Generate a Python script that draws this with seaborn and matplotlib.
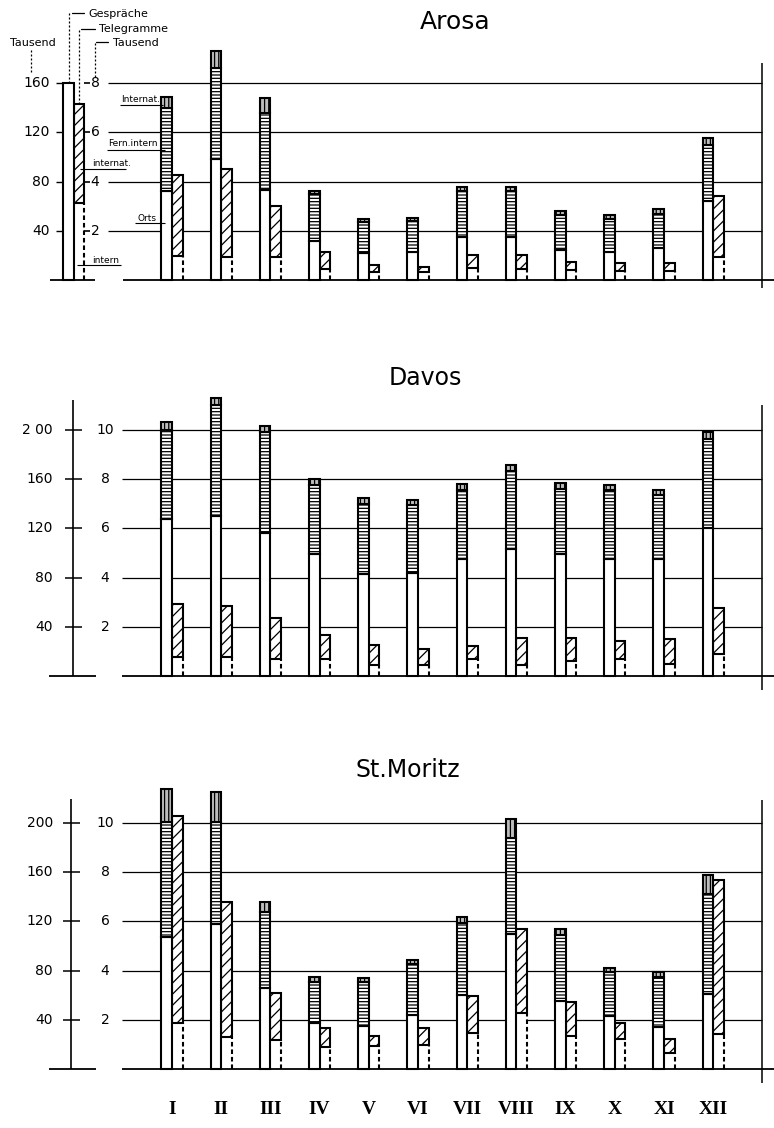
import numpy as np
import matplotlib
matplotlib.use("Agg")
import matplotlib.pyplot as plt
import seaborn as sns

# ---------------- data (thousands) ----------------
months = ["I", "II", "III", "IV", "V", "VI", "VII", "VIII", "IX", "X", "XI", "XII"]

# Gespräche: Orts, Fern intern, Internat.
arosa_orts = [72, 98, 73, 32, 22, 23, 35, 35, 24, 23, 26, 64]
arosa_fern = [68, 74, 63, 38, 25, 25, 37, 37, 29, 27, 28, 46]
arosa_internat = [9, 14, 12, 2.5, 2.2, 2.4, 3.5, 3.5, 3.4, 3.0, 3.5, 5.6]
# Telegramme: intern, internat.
arosa_tel_intern = [0.98, 0.95, 0.94, 0.46, 0.34, 0.31, 0.47, 0.44, 0.40, 0.37, 0.37, 0.92]
arosa_tel_internat = [3.29, 3.55, 2.06, 0.67, 0.27, 0.23, 0.54, 0.56, 0.35, 0.34, 0.31, 2.51]

davos_orts = [128, 130, 116, 99, 83, 84, 95, 103, 99, 95, 95, 120]
davos_fern = [72, 90, 82, 56, 57, 55, 56, 64, 53, 56, 52, 73]
davos_internat = [6.5, 6, 5.1, 4.8, 4.7, 4.2, 4.9, 4.7, 4.6, 4.6, 4.6, 5.2]
davos_tel_intern = [0.79, 0.79, 0.70, 0.70, 0.45, 0.45, 0.68, 0.45, 0.61, 0.68, 0.47, 0.88]
davos_tel_internat = [2.13, 2.06, 1.65, 0.95, 0.83, 0.66, 0.54, 1.11, 0.95, 0.74, 1.02, 1.88]

moritz_orts = [107, 118, 66, 37, 35, 44, 60, 110, 55, 43, 34, 61]
moritz_fern = [94, 83, 62, 34, 36, 41, 59, 78, 54, 36, 41, 81]
moritz_internat = [27, 24.5, 7.6, 3.5, 3.2, 3.5, 4.3, 15.5, 4.9, 3.2, 4.1, 15.5]
moritz_tel_intern = [1.88, 1.29, 1.18, 0.89, 0.93, 0.98, 1.46, 2.27, 1.36, 1.20, 0.65, 1.43]
moritz_tel_internat = [8.42, 5.49, 1.92, 0.77, 0.40, 0.69, 1.49, 3.42, 1.36, 0.68, 0.55, 6.27]

# key (legend) sample bars in the Arosa panel
key_gespraeche = 160
key_tel_intern = 3.15
key_tel_internat = 4.0

gesp_ticks_arosa = [40, 80, 120, 160]
tel_ticks_arosa = [2, 4, 6, 8]
gesp_ticks = [40, 80, 120, 160, 200]
gesp_ticklabels_davos = ["40", "80", "120", "160", "2 00"]
gesp_ticklabels_moritz = ["40", "80", "120", "160", "200"]
tel_ticks = [2, 4, 6, 8, 10]

# ---------------- style / layout ----------------
sns.set_theme(style="white")
plt.rcParams["font.family"] = ["DejaVu Sans"]
plt.rcParams["text.color"] = "black"
plt.rcParams["hatch.linewidth"] = 0.9

W, H = 774, 1128
PXU = 49.2          # pixels per month slot
X0 = 172            # pixel x of month I
YS = 1.23           # pixels per thousand calls
BW = 0.215          # bar width (month units)
BLW = 1.5           # bar outline width
RATIO = 20          # calls scale / telegram scale


def xd(px):
    return (px - X0) / PXU


fig = plt.figure(figsize=(W / 100, H / 100), dpi=100)
fig.patch.set_facecolor("white")


def make_axes(top, bot, base):
    ax = fig.add_axes([0, 1 - bot / H, 1, (bot - top) / H])
    ax2 = ax.twinx()
    ax2.set_zorder(1)
    ax.set_zorder(2)
    lim = ((base - bot) / YS, (base - top) / YS)
    return ax, ax2, lim


def finish(ax, ax2, lim):
    ax.set_xlim(xd(0), xd(W))
    ax.set_ylim(*lim)
    ax2.set_ylim(lim[0] / RATIO, lim[1] / RATIO)
    ax.axis("off")
    ax2.axis("off")


def draw_bars(ax, ax2, orts, fern, intl, t_int, t_intl):
    x = np.arange(len(months))
    orts = np.asarray(orts, float)
    fern = np.asarray(fern, float)
    intl = np.asarray(intl, float)
    t_int = np.asarray(t_int, float)
    t_intl = np.asarray(t_intl, float)
    xg = x - BW / 2
    xt = x + BW / 2
    sns.barplot(x=xg, y=orts, native_scale=True, orient="x", width=BW,
                color="white", saturation=1, edgecolor="black", linewidth=BLW,
                errorbar=None, ax=ax, zorder=3)
    ax.bar(xg, fern, BW, bottom=orts, facecolor="white", edgecolor="black",
           hatch="-----", linewidth=BLW, zorder=3)
    ax.bar(xg, intl, BW, bottom=orts + fern, facecolor="#bdbdbd",
           edgecolor="black", hatch="||||", linewidth=BLW, zorder=3)
    ax2.bar(xt, t_int, BW, facecolor="white", edgecolor="none", zorder=3)
    ax2.bar(xt, t_intl, BW, bottom=t_int, facecolor="white", edgecolor="black",
            hatch="///", linewidth=BLW, zorder=3)
    ax2.vlines(xt + BW / 2, 0, t_int, colors="black", linestyles=(0, (2.2, 1.4)),
               linewidth=BLW, zorder=4)


TICKFS = 10

# ================= Arosa =================
base = 280
ax, ax2, lim = make_axes(0, 330, base)
yA = lambda py: (base - py) / YS
ax2.hlines(tel_ticks_arosa, xd(108), xd(762), colors="black", linewidth=0.9, zorder=1)
draw_bars(ax, ax2, arosa_orts, arosa_fern, arosa_internat,
          arosa_tel_intern, arosa_tel_internat)
ax.hlines(0, xd(123), xd(774), colors="black", linewidth=1.3, zorder=2)
ax.hlines(0, xd(50), xd(95), colors="black", linewidth=1.3, zorder=2)
ax.vlines(xd(762), -6.5, 176.7, colors="black", linewidth=1.1)
ax.text(xd(455), yA(22), "Arosa", ha="center", va="center", fontsize=18)

# key bars
ax.bar(-2 - BW / 2, key_gespraeche, BW, facecolor="white", edgecolor="black",
       linewidth=BLW, zorder=3)
ax2.bar(-2 + BW / 2, key_tel_intern, BW, facecolor="white", edgecolor="none", zorder=3)
ax2.bar(-2 + BW / 2, key_tel_internat, BW, bottom=key_tel_intern, facecolor="white",
        edgecolor="black", hatch="///", linewidth=BLW, zorder=3)
ax2.vlines(-2 + BW, 0, key_tel_intern, colors="black", linestyles=(0, (2.2, 1.4)),
           linewidth=BLW, zorder=4)

# scales
for v in gesp_ticks_arosa:
    ax.text(xd(50), v, str(v), ha="right", va="center", fontsize=TICKFS)
ax.hlines(gesp_ticks_arosa, xd(56), xd(63), colors="black", linewidth=1.0)
for t in tel_ticks_arosa:
    ax2.text(xd(95), t, str(t), ha="center", va="center", fontsize=TICKFS)
ax2.hlines(tel_ticks_arosa, xd(84), xd(90), colors="black", linewidth=1.2)

dash = (0, (1.6, 1.6))
# header leaders
ax.plot([xd(69), xd(69)], [yA(83), yA(13)], color="black", lw=0.9, ls=dash)
ax.plot([xd(72), xd(84)], [yA(13), yA(13)], color="black", lw=0.9)
ax.text(xd(88), yA(14), "Gespräche", ha="left", va="center", fontsize=8)
ax.plot([xd(79), xd(79)], [yA(104), yA(29)], color="black", lw=0.9, ls=dash)
ax.plot([xd(81), xd(95)], [yA(29), yA(29)], color="black", lw=0.9)
ax.text(xd(99), yA(29), "Telegramme", ha="left", va="center", fontsize=8)
ax.plot([xd(95), xd(95)], [yA(77), yA(42)], color="black", lw=0.9, ls=dash)
ax.plot([xd(96), xd(108)], [yA(42), yA(42)], color="black", lw=0.9)
ax.text(xd(113), yA(43), "Tausend", ha="left", va="center", fontsize=8)
ax.text(xd(33), yA(43), "Tausend", ha="center", va="center", fontsize=8)
ax.plot([xd(31), xd(31)], [yA(50), yA(73)], color="black", lw=0.9, ls=dash)

# segment labels
SFS = 6.5
ax.text(xd(121), yA(100), "Internat.", ha="left", va="center", fontsize=SFS, zorder=5)
ax.hlines(yA(105), xd(120), xd(163), colors="black", linewidth=0.8, zorder=5)
ax.text(xd(108), yA(144), "Fern.intern", ha="left", va="center", fontsize=SFS, zorder=5)
ax.hlines(yA(150), xd(107), xd(165), colors="black", linewidth=0.8, zorder=5)
ax.text(xd(137), yA(218), "Orts", ha="left", va="center", fontsize=SFS, zorder=5)
ax.hlines(yA(223), xd(135), xd(165), colors="black", linewidth=0.8, zorder=5)
ax.text(xd(92), yA(163), "internat.", ha="left", va="center", fontsize=SFS, zorder=5)
ax.hlines(yA(168.5), xd(80), xd(126), colors="black", linewidth=0.8, zorder=5)
ax.text(xd(92), yA(260), "intern", ha="left", va="center", fontsize=SFS, zorder=5)
ax.hlines(yA(265), xd(77), xd(121), colors="black", linewidth=0.8, zorder=5)
finish(ax, ax2, lim)


# ================= Davos / St. Moritz =================
def lower_panel(top, bot, base, title, title_px, orts, fern, intl, t_int, t_intl,
                labels, axis_px, axis_top_px, right_top_px, right_bot_px, months_row=False):
    ax, ax2, lim = make_axes(top, bot, base)
    yv = lambda py: (base - py) / YS
    ax2.hlines(tel_ticks, xd(122), xd(762), colors="black", linewidth=0.9, zorder=1)
    draw_bars(ax, ax2, orts, fern, intl, t_int, t_intl)
    ax.hlines(0, xd(122), xd(774), colors="black", linewidth=1.3, zorder=2)
    ax.hlines(0, xd(49), xd(96), colors="black", linewidth=1.3, zorder=2)
    ax.vlines(xd(axis_px), 0, yv(axis_top_px), colors="black", linewidth=1.2)
    ax.hlines(gesp_ticks, xd(axis_px - 8), xd(axis_px + 9), colors="black", linewidth=1.1)
    for v, lab in zip(gesp_ticks, labels):
        ax.text(xd(53), v, lab, ha="right", va="center", fontsize=TICKFS)
    for t in tel_ticks:
        ax2.text(xd(105), t, str(t), ha="center", va="center", fontsize=TICKFS)
    ax.vlines(xd(762), yv(right_bot_px), yv(right_top_px), colors="black", linewidth=1.1)
    ax.text(xd(title_px[0]), yv(title_px[1]), title, ha="center", va="center",
            fontsize=17)
    if months_row:
        for i, m in enumerate(months):
            ax.text(i, yv(1110), m, ha="center", va="center", fontsize=14,
                    family="Liberation Serif", fontweight="bold")
    finish(ax, ax2, lim)


lower_panel(330, 720, 676, "Davos", (425, 378), davos_orts, davos_fern, davos_internat,
            davos_tel_intern, davos_tel_internat, gesp_ticklabels_davos,
            73, 400, 405, 690)
lower_panel(720, 1128, 1069, "St.Moritz", (408, 770), moritz_orts, moritz_fern,
            moritz_internat, moritz_tel_intern, moritz_tel_internat,
            gesp_ticklabels_moritz, 71, 799, 800, 1083, months_row=True)

fig.savefig("out.png", dpi=100, facecolor="white")
